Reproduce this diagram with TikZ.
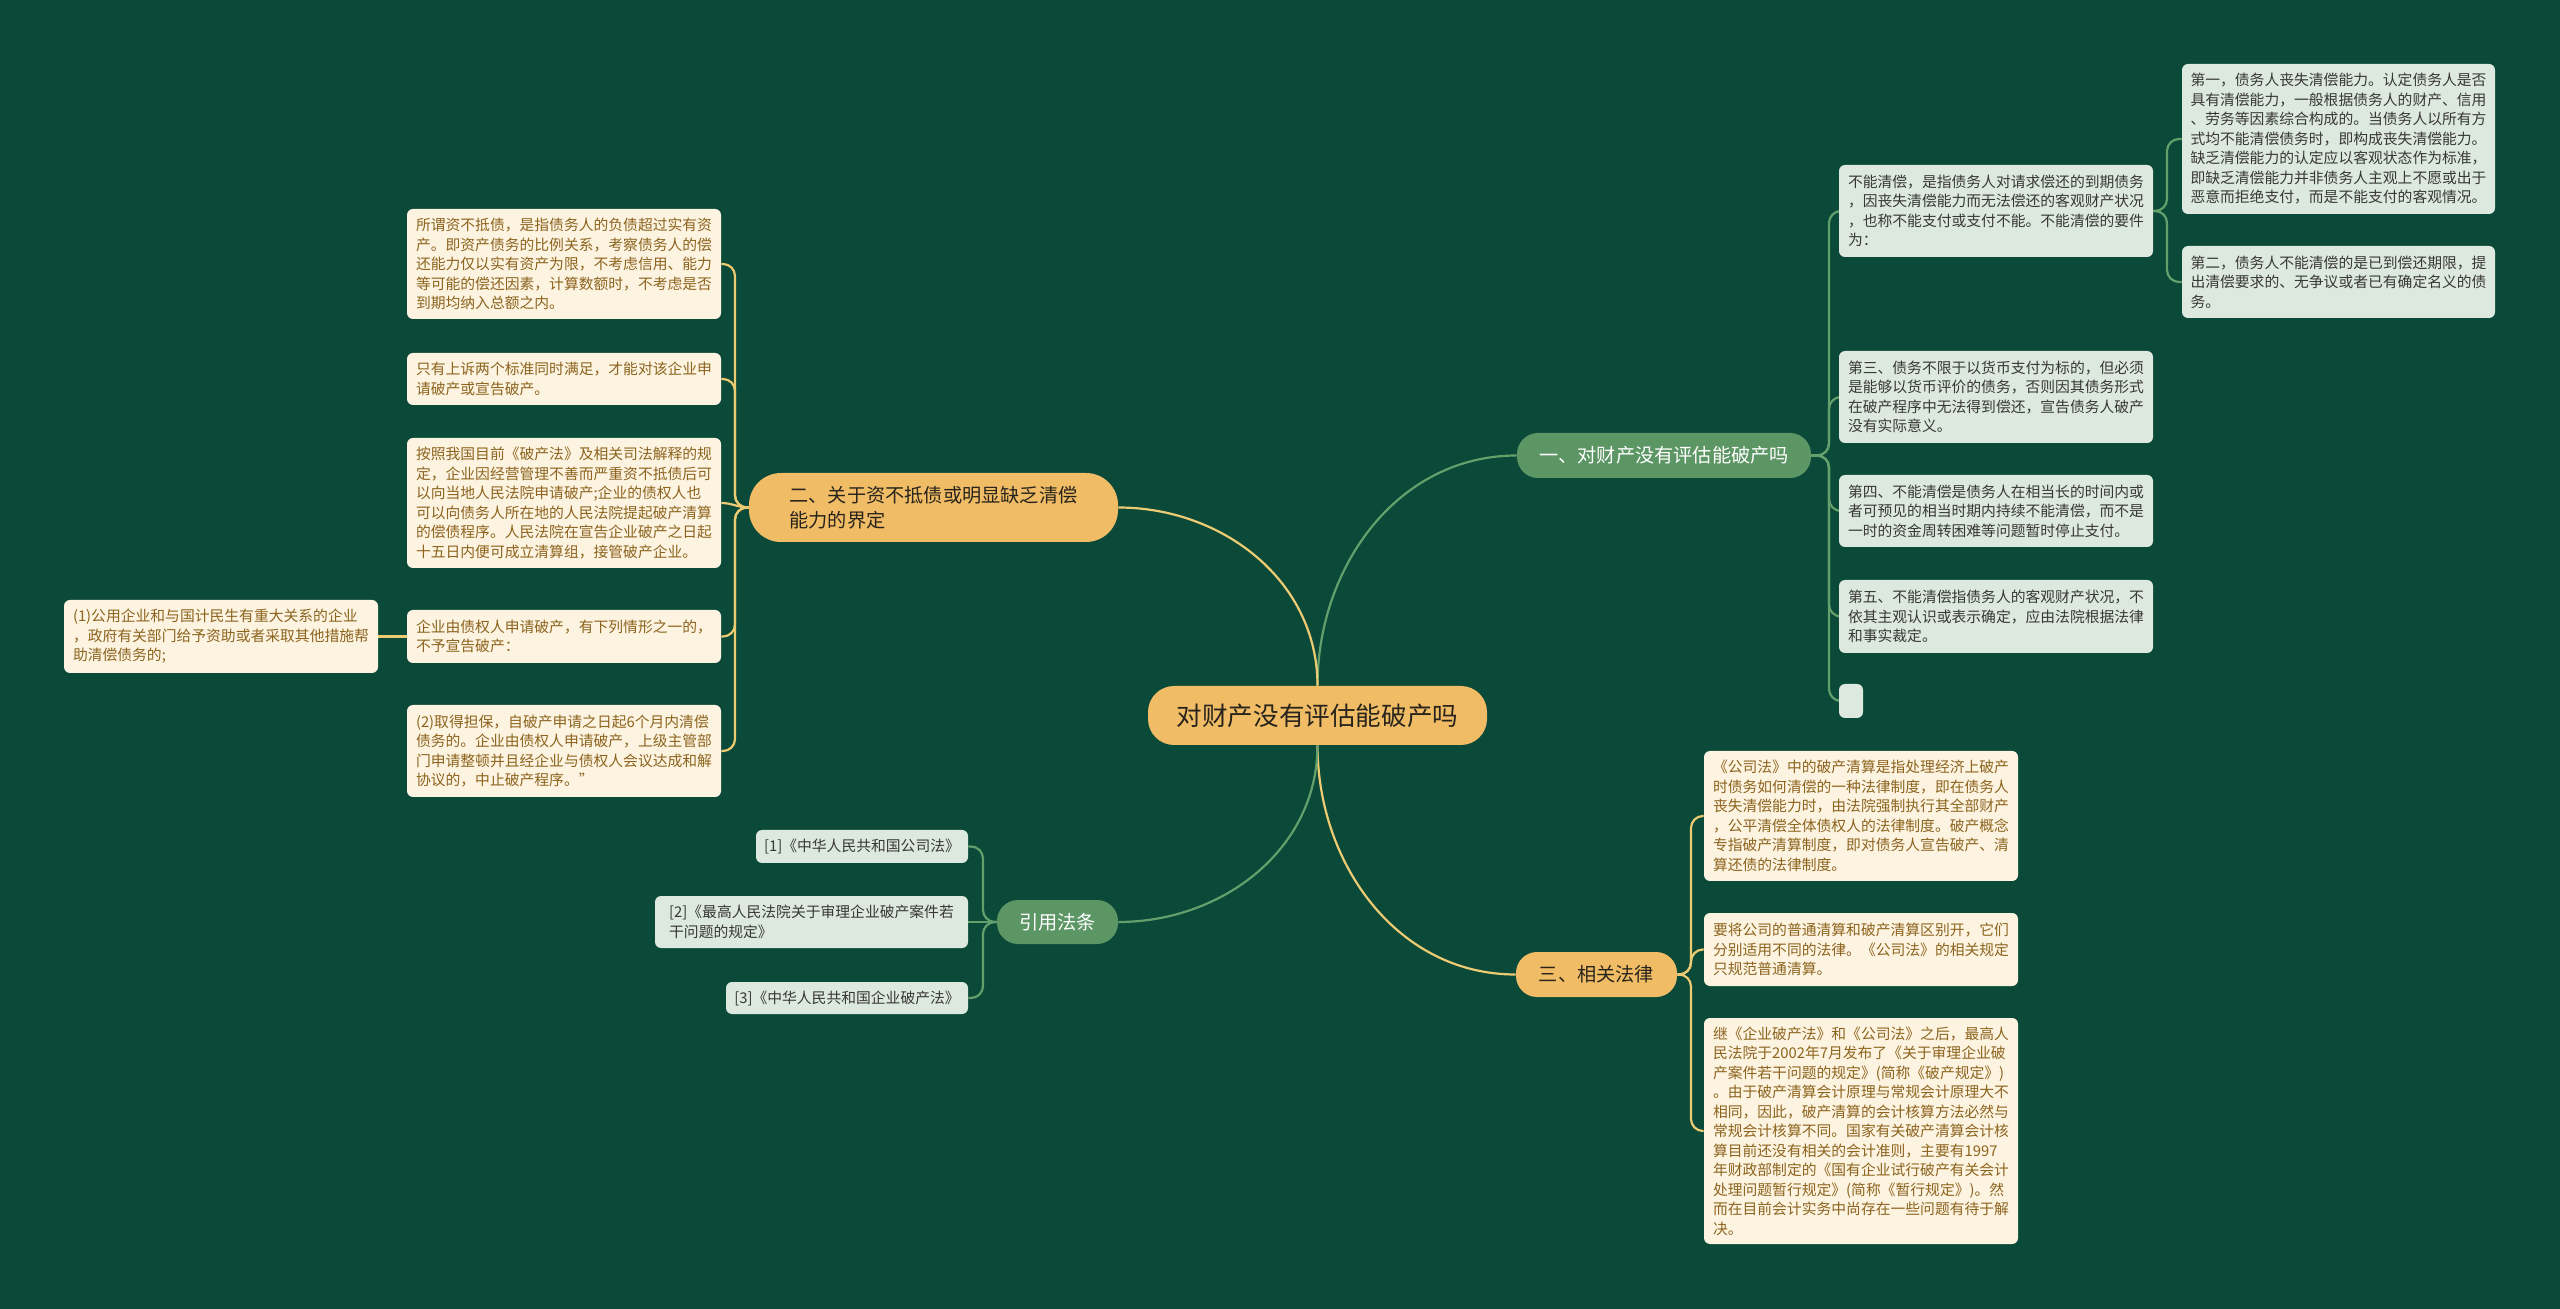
\documentclass[tikz,border=0pt]{standalone}
\usepackage{fontspec}
\newfontfamily\cjk{Noto Sans CJK SC}
\usetikzlibrary{calc}
\definecolor{bgc}{RGB}{11,73,56}
\definecolor{orn}{RGB}{240,188,101}
\definecolor{grn}{RGB}{92,150,100}
\definecolor{leafG}{RGB}{221,233,222}
\definecolor{leafC}{RGB}{253,243,225}
\definecolor{txtG}{RGB}{55,55,55}
\definecolor{txtC}{RGB}{140,100,30}
\definecolor{txtD}{RGB}{40,36,28}
\definecolor{lineO}{RGB}{236,203,115}
\definecolor{lineG}{RGB}{100,160,108}
\pgfdeclarelayer{bg}
\pgfsetlayers{bg,main}
\newcommand\mybox[7]{%
  \pgfmathsetmacro\mbw{(#5-#3)*0.5}%
  \pgfmathsetmacro\mbh{(#6-#4)*0.5}%
  \pgfmathsetmacro\mbx{(#3+#5)/2}%
  \pgfmathsetmacro\mby{(#4+#6)/2}%
  \node[#1, minimum width=\mbw pt, minimum height=\mbh pt] (#2) at (\mbx,\mby) {#7};}
\begin{document}
\begin{tikzpicture}[x=0.5pt,y=-0.5pt,
  leafg/.style={fill=leafG, text=txtG, rounded corners=3pt, align=left, inner xsep=4pt, inner ysep=2pt, font=\cjk\fontsize{7.4}{9.75}\selectfont},
  leafc/.style={leafg, fill=leafC, text=txtC},
  mainnode/.style={fill=orn, text=txtD, rounded corners=13pt, inner sep=0pt, font=\cjk\fontsize{12.8}{15}\selectfont},
  brano/.style={fill=orn, text=txtD, inner sep=0pt, align=left, font=\cjk\fontsize{9.6}{12.5}\selectfont},
  brang/.style={brano, fill=grn, text=white},
  oline/.style={draw=lineO, line width=1.1pt},
  gline/.style={draw=lineG, line width=1.1pt},
  sub/.style={rounded corners=6pt}
]
% ---- nodes ----
\mybox{mainnode}{c}{1148}{686}{1487}{745}{对财产没有评估能破产吗}
\mybox{brang, rounded corners=10.5pt}{b1}{1517}{433}{1811}{478}{一、对财产没有评估能破产吗}
\mybox{brano, rounded corners=16pt}{b2}{749}{473}{1118}{542}{二、关于资不抵债或明显缺乏清偿\\能力的界定}
\mybox{brano, rounded corners=10.5pt}{b3}{1516}{952}{1677}{997}{三、相关法律}
\mybox{brang, rounded corners=10.5pt}{b4}{997}{900}{1118}{944}{引用法条}

\mybox{leafg}{r0a}{2182}{64}{2495}{214}{第一，债务人丧失清偿能力。认定债务人是否\\具有清偿能力，一般根据债务人的财产、信用\\、劳务等因素综合构成的。当债务人以所有方\\式均不能清偿债务时，即构成丧失清偿能力。\\缺乏清偿能力的认定应以客观状态作为标准，\\即缺乏清偿能力并非债务人主观上不愿或出于\\恶意而拒绝支付，而是不能支付的客观情况。}
\mybox{leafg}{r0b}{2182}{246}{2495}{318}{第二，债务人不能清偿的是已到偿还期限，提\\出清偿要求的、无争议或者已有确定名义的债\\务。}
\mybox{leafg}{r0}{1839}{165}{2153}{257}{不能清偿，是指债务人对请求偿还的到期债务\\，因丧失清偿能力而无法偿还的客观财产状况\\，也称不能支付或支付不能。不能清偿的要件\\为：}
\mybox{leafg}{r1}{1839}{351}{2153}{443}{第三、债务不限于以货币支付为标的，但必须\\是能够以货币评价的债务，否则因其债务形式\\在破产程序中无法得到偿还，宣告债务人破产\\没有实际意义。}
\mybox{leafg}{r2}{1839}{475}{2153}{547}{第四、不能清偿是债务人在相当长的时间内或\\者可预见的相当时期内持续不能清偿，而不是\\一时的资金周转困难等问题暂时停止支付。}
\mybox{leafg}{r3}{1839}{580}{2153}{653}{第五、不能清偿指债务人的客观财产状况，不\\依其主观认识或表示确定，应由法院根据法律\\和事实裁定。}
\mybox{leafg}{r4}{1839}{684}{1863}{718}{}

\mybox{leafc}{q0}{1704}{751}{2018}{881}{《公司法》中的破产清算是指处理经济上破产\\时债务如何清偿的一种法律制度，即在债务人\\丧失清偿能力时，由法院强制执行其全部财产\\，公平清偿全体债权人的法律制度。破产概念\\专指破产清算制度，即对债务人宣告破产、清\\算还债的法律制度。}
\mybox{leafc}{q1}{1704}{913}{2018}{986}{要将公司的普通清算和破产清算区别开，它们\\分别适用不同的法律。《公司法》的相关规定\\只规范普通清算。}
\mybox{leafc}{q2}{1704}{1018}{2018}{1244}{继《企业破产法》和《公司法》之后，最高人\\民法院于2002年7月发布了《关于审理企业破\\产案件若干问题的规定》(简称《破产规定》)\\。由于破产清算会计原理与常规会计原理大不\\相同，因此，破产清算的会计核算方法必然与\\常规会计核算不同。国家有关破产清算会计核\\算目前还没有相关的会计准则，主要有1997\\年财政部制定的《国有企业试行破产有关会计\\处理问题暂行规定》(简称《暂行规定》)。然\\而在目前会计实务中尚存在一些问题有待于解\\决。}

\mybox{leafc}{l0}{407}{209}{721}{319}{所谓资不抵债，是指债务人的负债超过实有资\\产。即资产债务的比例关系，考察债务人的偿\\还能力仅以实有资产为限，不考虑信用、能力\\等可能的偿还因素，计算数额时，不考虑是否\\到期均纳入总额之内。}
\mybox{leafc}{l1}{407}{353}{721}{405}{只有上诉两个标准同时满足，才能对该企业申\\请破产或宣告破产。}
\mybox{leafc}{l2}{407}{438}{721}{568}{按照我国目前《破产法》及相关司法解释的规\\定，企业因经营管理不善而严重资不抵债后可\\以向当地人民法院申请破产;企业的债权人也\\可以向债务人所在地的人民法院提起破产清算\\的偿债程序。人民法院在宣告企业破产之日起\\十五日内便可成立清算组，接管破产企业。}
\mybox{leafc}{l3}{407}{610}{721}{663}{企业由债权人申请破产，有下列情形之一的，\\不予宣告破产：}
\mybox{leafc}{l4}{407}{705}{721}{797}{(2)取得担保，自破产申请之日起6个月内清偿\\债务的。企业由债权人申请破产，上级主管部\\门申请整顿并且经企业与债权人会议达成和解\\协议的，中止破产程序。”}
\mybox{leafc}{ll}{64}{600}{378}{673}{(1)公用企业和与国计民生有重大关系的企业\\，政府有关部门给予资助或者采取其他措施帮\\助清偿债务的;}

\mybox{leafg}{k1}{756}{830}{968}{863}{[1]《中华人民共和国公司法》}
\mybox{leafg}{k2}{655}{896}{968}{948}{[2]《最高人民法院关于审理企业破产案件若\\干问题的规定》}
\mybox{leafg}{k3}{726}{982}{968}{1014}{[3]《中华人民共和国企业破产法》}

% spine coordinates
\coordinate (s1) at (1829,0);
\coordinate (s0) at (2167,0);
\coordinate (s3) at (1691,0);
\coordinate (s2) at (735,0);
\coordinate (s4) at (983,0);

\begin{pgfonlayer}{bg}
\fill[bgc] (0,0) rectangle (2560,1309);
% main connectors
\draw[gline] (c.north) to[out=90,in=180] (b1.west);
\draw[oline] (c.north) to[out=90,in=0] (b2.east);
\draw[oline] (c.south) to[out=-90,in=180] (b3.west);
\draw[gline] (c.south) to[out=-90,in=0] (b4.east);
% branch one
\foreach \t in {r0,r1,r2,r3,r4}
  \draw[gline,sub] (b1.east) -| (s1 |- \t.west) -- (\t.west);
\foreach \t in {r0a,r0b}
  \draw[gline,sub] (r0.east) -| (s0 |- \t.west) -- (\t.west);
% branch three
\foreach \t in {q0,q1,q2}
  \draw[oline,sub] (b3.east) -| (s3 |- \t.west) -- (\t.west);
% branch two
\foreach \t in {l0,l1,l3,l4}
  \draw[oline,sub] (b2.west) -| (s2 |- \t.east) -- (\t.east);
\draw[oline] (b2.west) to[out=180,in=0] (l2.east);
\draw[oline] (l3.west) -- (ll.east);
% citations
\foreach \t in {k1,k3}
  \draw[gline,sub] (b4.west) -| (s4 |- \t.east) -- (\t.east);
\draw[gline] (b4.west) -- (k2.east);
\end{pgfonlayer}
\end{tikzpicture}
\end{document}
